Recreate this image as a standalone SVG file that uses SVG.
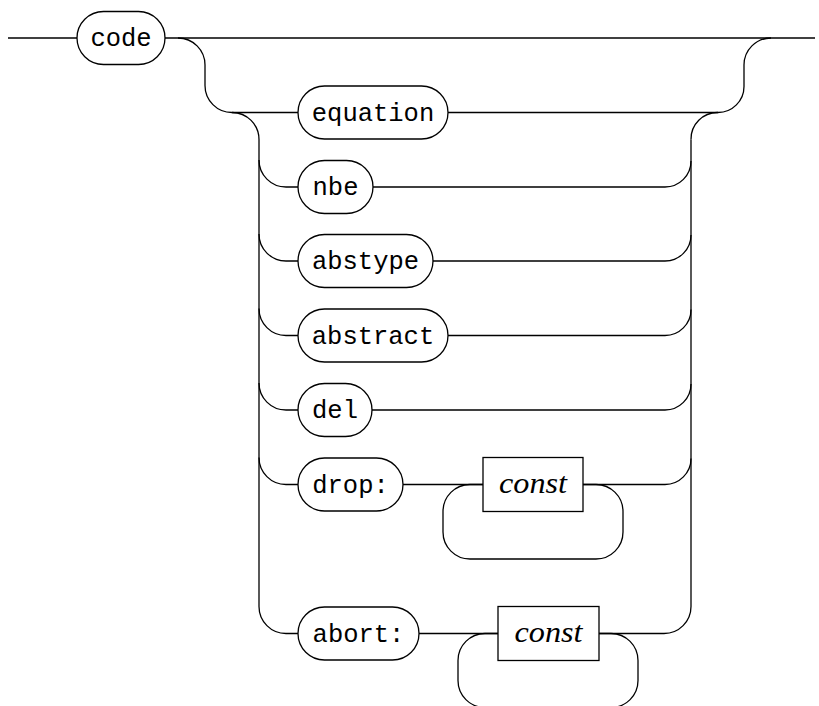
<svg xmlns="http://www.w3.org/2000/svg" width="819" height="706" viewBox="0 0 819 706">
<style>
  .c { fill: none; stroke: #000; stroke-width: 1.3; }
  .pill { fill: #fff; stroke: #000; stroke-width: 1.3; }
  .box { fill: #fff; stroke: #000; stroke-width: 1.3; }
  .t { font-family: "Liberation Mono", "DejaVu Sans Mono", monospace; font-size: 25.5px; fill: #000; text-anchor: middle; }
  .m { font-family: "Liberation Serif", "DejaVu Serif", serif; font-style: italic; font-size: 29px; fill: #000; text-anchor: middle; }
</style>
<rect width="819" height="706" fill="#fff"/>
<g id="connectors">
  <path class="c" d="M8,38 H77"/>
  <path class="c" d="M165,38 H815"/>
  <path class="c" d="M178,38 A27,27 0 0 1 205,65 V85.5 A27,27 0 0 0 232,112.5 H298"/>
  <path class="c" d="M232,112.5 A27,27 0 0 1 259,139.5 V606.5 A27,27 0 0 0 286,633.5 H298"/>
  <path class="c" d="M259,160 A27,27 0 0 0 286,187 H298"/>
  <path class="c" d="M259,234 A27,27 0 0 0 286,261 H298"/>
  <path class="c" d="M259,308.5 A27,27 0 0 0 286,335.5 H298"/>
  <path class="c" d="M259,383 A27,27 0 0 0 286,410 H298"/>
  <path class="c" d="M259,457.5 A27,27 0 0 0 286,484.5 H298"/>
  <path class="c" d="M448,112.5 H718 A26,26 0 0 0 744,86.5 V65 A27,27 0 0 1 771,38"/>
  <path class="c" d="M691,139.5 A26.5,26.5 0 0 1 718,112.5"/>
  <path class="c" d="M691,139.5 V606.5 A27,27 0 0 1 664,633.5 H599"/>
  <path class="c" d="M373,187 H665 A26,26 0 0 0 691,161"/>
  <path class="c" d="M433,261 H665 A26,26 0 0 0 691,235"/>
  <path class="c" d="M448,335.5 H665 A26,26 0 0 0 691,309.5"/>
  <path class="c" d="M372,410 H665 A26,26 0 0 0 691,384"/>
  <path class="c" d="M403,484.5 H483"/>
  <path class="c" d="M583,484.5 H665 A26,26 0 0 0 691,458.5"/>
  <rect class="c" x="443" y="484.5" width="180" height="74.5" rx="27"/>
  <path class="c" d="M419,633.5 H498"/>
  <rect class="c" x="458" y="633.5" width="180" height="74" rx="27"/>
</g>
<g id="node-code">
  <rect class="pill" x="77" y="11.5" width="88" height="53" rx="26.5"/>
  <text class="t" x="121" y="46">code</text>
</g>
<g id="node-equation">
  <rect class="pill" x="298" y="86" width="150" height="53" rx="26.5"/>
  <text class="t" x="373" y="120.5">equation</text>
</g>
<g id="node-nbe">
  <rect class="pill" x="298" y="160.5" width="75" height="53" rx="26.5"/>
  <text class="t" x="335.5" y="195">nbe</text>
</g>
<g id="node-abstype">
  <rect class="pill" x="298" y="234.5" width="135" height="53" rx="26.5"/>
  <text class="t" x="365.5" y="269">abstype</text>
</g>
<g id="node-abstract">
  <rect class="pill" x="298" y="309" width="150" height="53" rx="26.5"/>
  <text class="t" x="373" y="343.5">abstract</text>
</g>
<g id="node-del">
  <rect class="pill" x="298" y="383.5" width="74" height="53" rx="26.5"/>
  <text class="t" x="335" y="418">del</text>
</g>
<g id="node-drop">
  <rect class="pill" x="298" y="458" width="105" height="53" rx="26.5"/>
  <text class="t" x="350.5" y="492.5">drop:</text>
</g>
<g id="node-drop-const">
  <rect class="box" x="483" y="457.5" width="100" height="54"/>
  <text class="m" x="533" y="493" textLength="68" lengthAdjust="spacingAndGlyphs">const</text>
</g>
<g id="node-abort">
  <rect class="pill" x="298" y="607" width="121" height="53" rx="26.5"/>
  <text class="t" x="358.5" y="641.5">abort:</text>
</g>
<g id="node-abort-const">
  <rect class="box" x="498" y="606.5" width="101" height="54"/>
  <text class="m" x="548.5" y="642" textLength="68" lengthAdjust="spacingAndGlyphs">const</text>
</g>
</svg>
